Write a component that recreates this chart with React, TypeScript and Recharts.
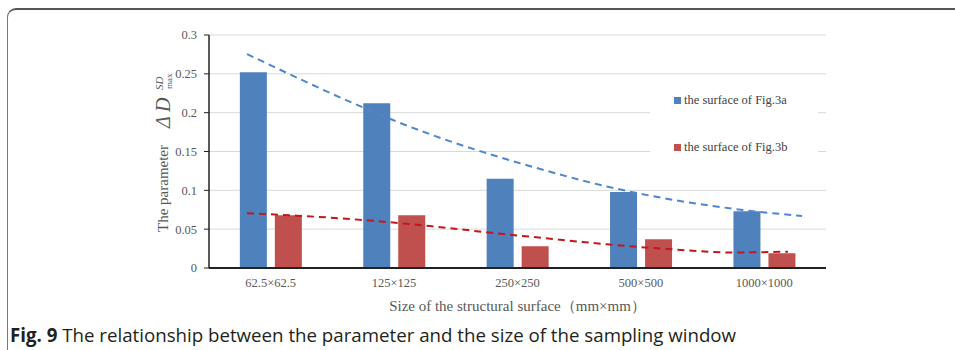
import React from "react";
import {
  ComposedChart,
  Bar,
  Line,
  XAxis,
  YAxis,
  CartesianGrid,
  Legend,
} from "recharts";

const categories = ["62.5×62.5", "125×125", "250×250", "500×500", "1000×1000"];
const surfaceA = [0.252, 0.212, 0.115, 0.098, 0.073];
const surfaceB = [0.068, 0.068, 0.028, 0.037, 0.019];
const yTicks = [0, 0.05, 0.1, 0.15, 0.2, 0.25, 0.3];

// dashed trend lines (x = category position, 1..5)
const trendAX = [0.808, 1.764, 1.991, 3.239, 3.75, 4.827, 5.306];
const trendAY = [0.2755, 0.2056, 0.1905, 0.125, 0.104, 0.0747, 0.067];
const trendBX = [0.808, 1.213, 1.748, 2.291, 2.834, 3.247, 3.725, 4.26, 4.746, 5.192];
const trendBY = [0.0704, 0.0674, 0.0618, 0.054, 0.0446, 0.038, 0.0305, 0.024, 0.02, 0.021];

const seriesNames = ["the surface of Fig.3a", "the surface of Fig.3b"];
const xTitle = "Size of the structural surface（mm×mm）";

const BLUE = "#4f81bd";
const RED = "#c0504d";
const SERIF = "'Times New Roman', 'Liberation Serif', serif";

const rows = categories.map((c, i) => ({ cat: c, a: surfaceA[i], b: surfaceB[i] }));
const trendA = trendAX.map((x, i) => ({ x, y: trendAY[i] }));
const trendB = trendBX.map((x, i) => ({ x, y: trendBY[i] }));

const YLabel = () => (
  <g transform="translate(158,150) rotate(-90)" fontFamily={SERIF} fill="#595959">
    <text x={-82} y={10} fontSize={15}>The parameter</text>
    <text x={22} y={12} fontSize={20} fontStyle="italic">Δ</text>
    <text x={38} y={12} fontSize={20} fontStyle="italic">D</text>
    <text x={60} y={5} fontSize={11} fontStyle="italic">SD</text>
    <text x={61} y={14} fontSize={9}>max</text>
  </g>
);

const LegendBox = () => (
  <div
    style={{
      background: "#fff",
      width: 168,
      height: 86,
      fontFamily: SERIF,
      fontSize: 12.5,
      color: "#404040",
      position: "relative",
    }}
  >
    {seriesNames.map((n, i) => (
      <div
        key={n}
        style={{
          position: "absolute",
          left: 24,
          top: 9 + i * 47,
          display: "flex",
          alignItems: "center",
          whiteSpace: "nowrap",
        }}
      >
        <span
          style={{
            display: "inline-block",
            width: 7,
            height: 7,
            background: i === 0 ? BLUE : RED,
            marginRight: 3,
          }}
        />
        {n}
      </div>
    ))}
  </div>
);

export default function App() {
  return (
    <div
      style={{
        position: "absolute",
        left: 0,
        top: 0,
        width: 955,
        height: 350,
        overflow: "hidden",
        background: "#fff",
      }}
    >
      <div
        style={{
          position: "absolute",
          left: 7,
          top: 8,
          width: 1000,
          height: 400,
          borderTop: "2px solid #555",
          borderLeft: "1px solid #777",
          borderTopLeftRadius: 9,
        }}
      />
      <div style={{ position: "absolute", left: 0, top: 0 }}>
        <ComposedChart
          width={955}
          height={350}
          data={rows}
          margin={{ top: 35, right: 129, left: 149, bottom: 52 }}
          barCategoryGap="25%"
          barGap={8}
        >
          <CartesianGrid vertical={false} stroke="#d9d9d9" strokeWidth={1} />
          <XAxis
            xAxisId="c"
            dataKey="cat"
            height={30}
            tickLine={false}
            tickSize={0}
            tickMargin={10}
            axisLine={{ stroke: "#222", strokeWidth: 2 }}
            tick={{ fontSize: 12.5, fontFamily: SERIF, fill: "#595959" }}
            label={{
              value: xTitle,
              position: "bottom",
              offset: 2,
              style: { fontSize: 15, fontFamily: SERIF, fill: "#595959" },
            }}
          />
          <XAxis xAxisId="n" type="number" dataKey="x" domain={[0.5, 5.5]} allowDataOverflow hide />
          <YAxis
            width={60}
            domain={[0, 0.3]}
            ticks={yTicks}
            tickSize={5}
            tickMargin={7}
            axisLine={{ stroke: "#222", strokeWidth: 1.5 }}
            tickLine={{ stroke: "#222" }}
            tick={{ fontSize: 12.5, fontFamily: SERIF, fill: "#595959" }}
            label={{ content: () => <YLabel /> }}
          />
          <Legend
            layout="horizontal"
            verticalAlign="middle"
            align="center"
            content={() => <LegendBox />}
            wrapperStyle={{ left: 650, top: 84, width: 168, height: 86 }}
          />
          <Bar xAxisId="c" dataKey="a" name={seriesNames[0]} fill={BLUE} isAnimationActive={false} />
          <Bar xAxisId="c" dataKey="b" name={seriesNames[1]} fill={RED} isAnimationActive={false} />
          <Line
            xAxisId="n"
            data={trendA}
            dataKey="y"
            type="monotone"
            stroke="#4f86cc"
            strokeWidth={2}
            strokeDasharray="7 5"
            dot={false}
            activeDot={false}
            legendType="none"
            isAnimationActive={false}
          />
          <Line
            xAxisId="n"
            data={trendB}
            dataKey="y"
            type="monotone"
            stroke="#c4161c"
            strokeWidth={2}
            strokeDasharray="7 5"
            dot={false}
            activeDot={false}
            legendType="none"
            isAnimationActive={false}
          />
        </ComposedChart>
      </div>
      <div
        style={{
          position: "absolute",
          left: 10,
          top: 322,
          fontFamily: "'Open Sans', 'Noto Sans', sans-serif",
          fontSize: 18.7,
          color: "#231f20",
          whiteSpace: "nowrap",
        }}
      >
        <b>Fig. 9</b>
        {"  The relationship between the parameter and the size of the sampling window"}
      </div>
    </div>
  );
}
